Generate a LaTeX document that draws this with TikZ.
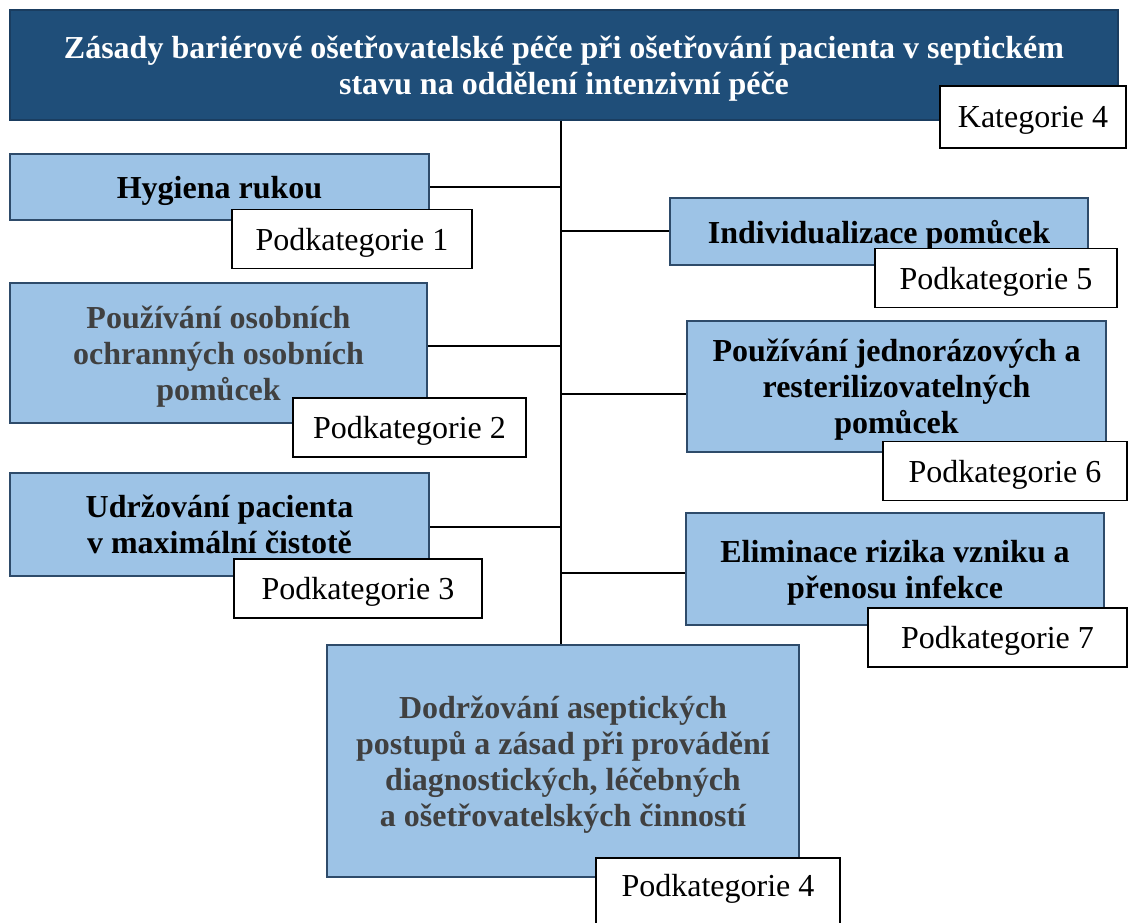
\documentclass[tikz,border=0pt]{standalone}
\usepackage{fontspec}
\setmainfont{Liberation Serif}
\definecolor{headblue}{HTML}{1F4E79}
\definecolor{headline}{HTML}{1A3D60}
\definecolor{boxblue}{HTML}{9DC3E6}
\definecolor{boxline}{HTML}{2E4B6A}
\definecolor{darktext}{HTML}{404040}
\newcommand{\diagfont}{\fontsize{24}{27}\selectfont}
\tikzset{
  headbox/.style={draw=headline, line width=1.5pt, fill=headblue, text=white,
    font=\diagfont\bfseries, align=center, inner sep=0pt, text depth=0pt},
  topicbox/.style={draw=boxline, line width=1.5pt, fill=boxblue,
    font=\diagfont\bfseries, align=center, inner sep=0pt, text depth=0pt},
  labelbox/.style={draw=black, line width=1.3pt, fill=white, font=\diagfont,
    inner sep=0pt, text depth=0pt},
  branch/.style={line width=1.5pt}
}
\begin{document}
\begin{tikzpicture}[x=0.75pt, y=-0.75pt]
  \useasboundingbox (0,0) rectangle (1128,923);
  \node[headbox, minimum width=831pt, minimum height=82.5pt] (head) at (564,65)
    {Zásady bariérové ošetřovatelské péče při ošetřování pacienta v septickém\\
     stavu na oddělení intenzivní péče};
  % left column
  \node[topicbox, minimum width=314.25pt, minimum height=49.5pt] (hyg) at (219.5,187) {Hygiena rukou};
  \node[topicbox, minimum width=312.75pt, minimum height=105pt, text=darktext] (osob) at (218.5,353)
    {Používání osobních\\ ochranných osobních\\ pomůcek};
  \node[topicbox, minimum width=314.25pt, minimum height=77.25pt] (udrz) at (219.5,524.5)
    {Udržování pacienta\\ v maximální čistotě};
  % right column
  \node[topicbox, minimum width=313.5pt, minimum height=50.25pt] (ind) at (879,231.5) {Individualizace pomůcek};
  \node[topicbox, minimum width=314.25pt, minimum height=98.25pt] (jedn) at (896.5,386.5)
    {Používání jednorázových a\\ resterilizovatelných\\ pomůcek};
  \node[topicbox, minimum width=313.5pt, minimum height=84pt] (elim) at (895,569)
    {Eliminace rizika vzniku a\\ přenosu infekce};
  % bottom
  \node[topicbox, minimum width=354pt, minimum height=174pt, text=darktext] (dodr) at (563,761)
    {Dodržování aseptických\\ postupů a zásad při provádění\\ diagnostických, léčebných\\
     a ošetřovatelských činností};
  % connectors
  \coordinate (trunk) at (561,120);
  \draw[branch] (head.south -| trunk) -- (dodr.north -| trunk);
  \draw[branch] (hyg.east) -- (hyg.east -| trunk);
  \draw[branch] ([yshift=5pt]osob.east) -- ([yshift=5pt]osob.east -| trunk);
  \draw[branch] ([yshift=-2pt]udrz.east) -- ([yshift=-2pt]udrz.east -| trunk);
  \draw[branch] (ind.west) -- (ind.west -| trunk);
  \draw[branch] ([yshift=-5.6pt]jedn.west) -- ([yshift=-5.6pt]jedn.west -| trunk);
  \draw[branch] ([yshift=-3pt]elim.west) -- ([yshift=-3pt]elim.west -| trunk);
  % labels
  \node[labelbox, minimum width=139.5pt, minimum height=46.5pt] (kat) at (1033,117) {Kategorie 4};
  \foreach \n/\x/\y/\w in {1/352/239/180, 2/409.5/427.5/174.75, 3/358/588.5/186,
      5/996/278/181.5, 6/1005/471/183, 7/997.5/637.5/194.25}
    \node[labelbox, minimum width=\w pt, minimum height=44.25pt] (p\n) at (\x,\y) {Podkategorie \n};
  \node[labelbox, anchor=north, minimum width=183pt, text height=29.25pt, text depth=25.5pt]
    (p4) at (718,857) {Podkategorie 4};
\end{tikzpicture}
\end{document}
